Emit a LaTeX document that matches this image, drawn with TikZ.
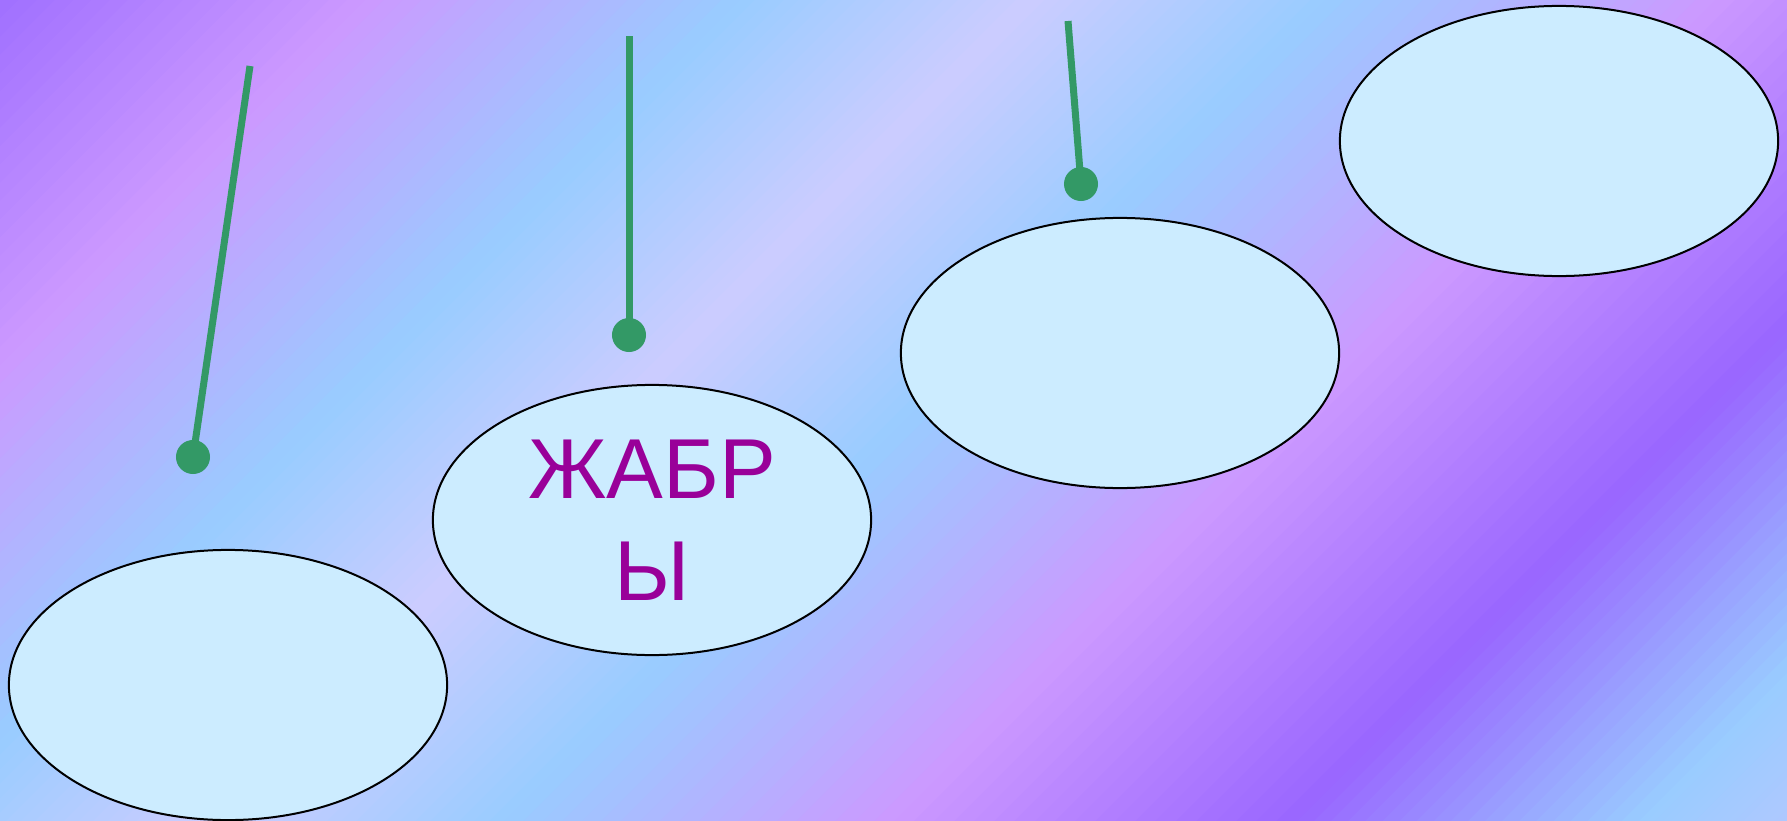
\documentclass[tikz,border=0pt]{standalone}
\usepackage{fontspec}
\setmainfont{Liberation Sans}
\usepackage{xcolor}
\usetikzlibrary{shapes.geometric}
\definecolor{bgA}{HTML}{A070FF}
\definecolor{bgB}{HTML}{CC99FF}
\definecolor{bgC}{HTML}{99CCFF}
\definecolor{bgD}{HTML}{CCCCFF}
\definecolor{bgE}{HTML}{9966FF}
\definecolor{bgF}{HTML}{B0C8FF}
\definecolor{cellfill}{HTML}{CCECFF}
\definecolor{pingreen}{HTML}{339966}
\definecolor{wordpurple}{HTML}{990099}

\begin{document}
\begin{tikzpicture}[x=0.01cm,y=-0.01cm]
            \tikzstyle{cell}=[ellipse,draw=black,line width=0.02cm,fill=cellfill,minimum width=4.38cm,minimum height=2.7cm]
            \tikzstyle{pin}=[circle,fill=pingreen,inner sep=0pt,minimum size=0.34cm]
            \tikzstyle{stem}=[draw=pingreen,line width=0.07cm]
            \tikzstyle{word}=[text=wordpurple,align=center,inner sep=0pt,font=\fontsize{24.2}{29}\selectfont]
            \useasboundingbox (0,0) rectangle (1787,821);
            \clip (0,0) rectangle (1787,821);
            % diagonal background bands
            \foreach \ta/\ca/\tb/\cb in {0/bgA/365/bgB, 365/bgB/740/bgC, 740/bgC/1030/bgD, 1030/bgD/1325/bgC,
                                         1325/bgC/1715/bgB, 1715/bgB/2118/bgE, 2118/bgE/2460/bgC, 2460/bgC/2620/bgF} {
                \foreach \k in {0,...,19} {
                    \pgfmathsetmacro\lo{\ta+(\tb-\ta)*\k/20}
                    \pgfmathsetmacro\hi{\ta+(\tb-\ta)*(\k+1)/20+1}
                    \pgfmathsetmacro\pc{100-(\k+0.5)*5}
                    \colorlet{stripe}{\ca!\pc!\cb}
                    \fill[stripe] (\lo+10,-10) -- (\hi+10,-10) -- (\hi-830,830) -- (\lo-830,830) -- cycle;
                }
            }
            % cells
            \node[cell] (cell1) at (228,685) {};
            \node[cell] (cell2) at (652,520) {};
            \node[cell] (cell3) at (1120,353) {};
            \node[cell] (cell4) at (1559,141) {};
            \node[word] (gills) at (cell2) {ЖАБР\\Ы};
            % pointers
            \coordinate (top1) at (250,66);
            \coordinate (top2) at (629,36);
            \coordinate (top3) at (1068,21);
            \node[pin] (dot1) at (193,457) {};
            \node[pin] (dot2) at (629,335) {};
            \node[pin] (dot3) at (1081,184) {};
            \draw[stem] (top1) -- (dot1.center);
            \draw[stem] (top2) -- (dot2.center);
            \draw[stem] (top3) -- (dot3.center);
\end{tikzpicture}
\end{document}
